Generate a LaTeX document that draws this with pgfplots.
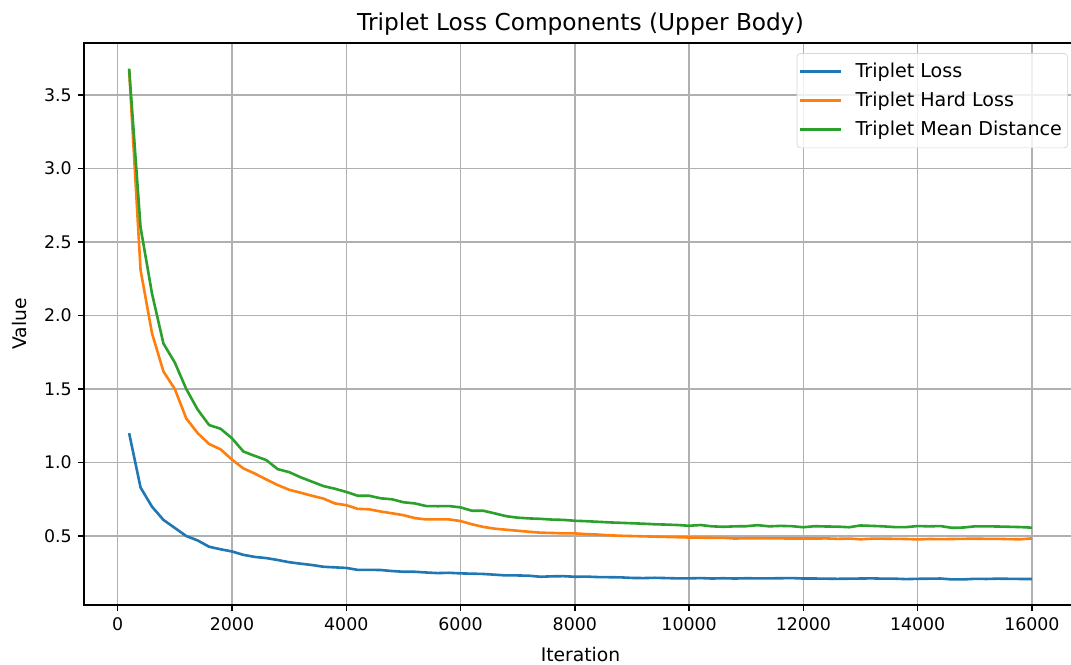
\documentclass[border=0pt]{standalone}
\usepackage{fontspec}
\setmainfont{DejaVu Sans}
\usepackage{pgfplots}
\pgfplotsset{compat=1.18}
\usepackage{pgfplotstable}
\definecolor{cA}{HTML}{1F77B4}
\definecolor{cB}{HTML}{FF7F0E}
\definecolor{cC}{HTML}{2CA02C}
\definecolor{gridgray}{RGB}{176,176,176}
\definecolor{leggray}{RGB}{214,214,214}

\pgfplotstableread{
x loss hard mean
200 1.200 3.670 3.680
400 0.830 2.310 2.600
600 0.700 1.880 2.150
800 0.610 1.620 1.810
1000 0.555 1.500 1.680
1200 0.500 1.300 1.500
1400 0.470 1.200 1.360
1600 0.427 1.126 1.255
1800 0.410 1.090 1.230
2000 0.395 1.020 1.165
2200 0.372 0.960 1.075
2400 0.358 0.925 1.045
2600 0.350 0.885 1.017
2800 0.337 0.847 0.955
3000 0.322 0.815 0.935
3200 0.312 0.795 0.900
3400 0.303 0.774 0.870
3600 0.291 0.755 0.840
3800 0.287 0.722 0.822
4000 0.283 0.710 0.800
4200 0.270 0.685 0.774
4400 0.270 0.682 0.774
4600 0.269 0.667 0.757
4800 0.262 0.655 0.750
5000 0.257 0.642 0.730
5200 0.257 0.622 0.722
5400 0.252 0.613 0.704
5600 0.248 0.613 0.703
5800 0.250 0.613 0.704
6000 0.246 0.602 0.695
6200 0.244 0.580 0.672
6400 0.242 0.562 0.672
6600 0.237 0.550 0.654
6800 0.232 0.543 0.635
7000 0.232 0.536 0.625
7200 0.230 0.529 0.620
7400 0.223 0.523 0.617
7600 0.226 0.521 0.612
7800 0.227 0.518 0.610
8000 0.223 0.518 0.604
8200 0.224 0.513 0.601
8400 0.221 0.510 0.597
8600 0.220 0.505 0.593
8800 0.219 0.502 0.590
9000 0.215 0.500 0.587
9200 0.214 0.498 0.584
9400 0.216 0.496 0.580
9600 0.214 0.494 0.578
9800 0.212 0.492 0.575
10000 0.212 0.490 0.570
10200 0.214 0.489 0.575
10400 0.211 0.488 0.566
10600 0.213 0.488 0.563
10800 0.211 0.483 0.566
11000 0.213 0.485 0.567
11200 0.212 0.485 0.574
11400 0.212 0.484 0.566
11600 0.213 0.484 0.569
11800 0.214 0.483 0.567
12000 0.211 0.483 0.560
12200 0.211 0.483 0.567
12400 0.210 0.484 0.565
12600 0.209 0.481 0.564
12800 0.210 0.483 0.560
13000 0.211 0.478 0.572
13200 0.212 0.482 0.569
13400 0.210 0.482 0.566
13600 0.210 0.481 0.561
13800 0.207 0.480 0.561
14000 0.209 0.477 0.568
14200 0.210 0.480 0.566
14400 0.211 0.479 0.568
14600 0.205 0.480 0.556
14800 0.205 0.481 0.558
15000 0.209 0.482 0.566
15200 0.208 0.481 0.566
15400 0.210 0.481 0.565
15600 0.209 0.479 0.563
15800 0.208 0.478 0.561
16000 0.208 0.484 0.557
}\datatable

\begin{document}
\begin{tikzpicture}
\path[use as bounding box] (-48.38pt,-33.98pt) rectangle (568.5pt,348.5pt);
\begin{axis}[
  at={(0pt,0pt)}, anchor=south west,
  scale only axis,
  width=572.0pt, height=323.7pt,
  xmin=-590, xmax=16790,
  ymin=0.0306, ymax=3.854,
  xtick={0,2000,4000,6000,8000,10000,12000,14000,16000},
  ytick={0.5,1.0,1.5,2.0,2.5,3.0,3.5},
  scaled x ticks=false,
  yticklabel style={/pgf/number format/.cd, fixed, fixed zerofill, precision=1},
  /pgf/number format/1000 sep={},
  /pgf/number format/assume math mode=true,
  tick label style={font=\fontsize{10}{12}\selectfont},
  tick align=outside, tick pos=left,
  major tick length=3.5pt,
  every tick/.style={black, line width=0.8pt},
  axis line style={line width=0.8pt, black},
  grid=major,
  major grid style={gridgray, line width=0.8pt},
  every axis title shift=0pt,
  title={Triplet Loss Components (Upper Body)},
  title style={font=\fontsize{13.4}{16}\selectfont, at={(axis description cs:0.5,1.0337)}, anchor=center},
  xlabel={Iteration},
  xlabel style={font=\fontsize{10.8}{13}\selectfont, at={(axis description cs:0.5,-0.088)}, anchor=center},
  ylabel={Value},
  ylabel style={font=\fontsize{10.8}{13}\selectfont, at={(axis description cs:-0.0645,0.5)}, anchor=center},
  legend style={at={(axis description cs:1,1)}, anchor=north east, xshift=-5.2pt, yshift=-5.8pt,
    font=\fontsize{11}{13}\selectfont, draw=leggray, rounded corners=2pt, fill=white, fill opacity=0.8, text opacity=1,
    row sep=2.8pt, inner xsep=1.3pt, inner ysep=3.6pt,
    /tikz/every odd column/.append style={column sep=5.4pt}},
  legend cell align=left,
  legend image code/.code={\draw[#1, line width=1.5pt] (0pt,0pt) -- (23.6pt,0pt);},
  every axis plot/.append style={line width=1.5pt, line join=round},
]
\addplot[cA, no markers] table[x=x, y=loss] {\datatable};
\addlegendentry{Triplet Loss}
\addplot[cB, no markers] table[x=x, y=hard] {\datatable};
\addlegendentry{Triplet Hard Loss}
\addplot[cC, no markers] table[x=x, y=mean] {\datatable};
\addlegendentry{Triplet Mean Distance}
\end{axis}
\end{tikzpicture}
\end{document}
